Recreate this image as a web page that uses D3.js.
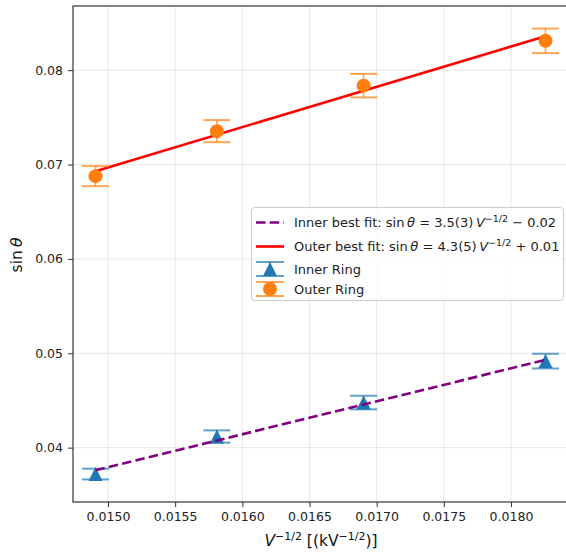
<!DOCTYPE html>
<html>
<head>
<meta charset="utf-8">
<script src="https://cdn.jsdelivr.net/npm/d3@7"></script>
<style>
  body { margin: 0; background: #fff; }
  svg { display: block; font-family: "DejaVu Sans", sans-serif; }
</style>
</head>
<body>
<svg id="chart" width="566" height="555"></svg>
<script>
// x = V^-1/2 for V = 4500, 4000, 3500, 3000
const xValues = [0.014907, 0.015811, 0.016903, 0.018257];
const innerRing = [0.03720, 0.04118, 0.04478, 0.04917];
const innerErr = [0.00057, 0.00065, 0.00072, 0.00078];
const outerRing = [0.06877, 0.07354, 0.07836, 0.08311];
const outerErr = [0.00106, 0.00117, 0.00125, 0.00130];
// fit line end values at first and last x
const innerFit = [0.0376, 0.0493];
const outerFit = [0.0693, 0.0836];
const xTicks = [0.0150, 0.0155, 0.0160, 0.0165, 0.0170, 0.0175, 0.0180];
const yTicks = [0.04, 0.05, 0.06, 0.07, 0.08];

const blue = '#1f77b4';
const orange = '#ff7f0e';

const svg = d3.select('#chart');
const margin = { left: 73, top: 6, right: 568, bottom: 502 };

const x = d3.scaleLinear().domain([0.0147395, 0.0184245]).range([margin.left, margin.right]);
const y = d3.scaleLinear().domain([0.03424, 0.0868]).range([margin.bottom, margin.top]);

// grid
const grid = svg.append('g').attr('stroke', '#b0b0b0').attr('stroke-opacity', 0.35).attr('stroke-width', 0.8);
xTicks.forEach(t => grid.append('line').attr('x1', x(t)).attr('x2', x(t)).attr('y1', margin.top).attr('y2', margin.bottom));
yTicks.forEach(t => grid.append('line').attr('y1', y(t)).attr('y2', y(t)).attr('x1', margin.left).attr('x2', margin.right));

// axes
const xAxis = d3.axisBottom(x).tickValues(xTicks).tickFormat(d3.format('.4f')).tickSizeOuter(0).tickSize(5).tickPadding(5);
const yAxis = d3.axisLeft(y).tickValues(yTicks).tickFormat(d3.format('.2f')).tickSizeOuter(0).tickSize(5).tickPadding(5);
svg.append('g').attr('transform', `translate(0,${margin.bottom})`).call(xAxis)
  .call(g => g.select('.domain').remove());
svg.append('g').attr('transform', `translate(${margin.left},0)`).call(yAxis)
  .call(g => g.select('.domain').remove());
svg.selectAll('.tick text').attr('font-size', 12.5).attr('font-family', '"DejaVu Sans", sans-serif').attr('fill', '#222');
svg.selectAll('.tick line').attr('stroke', '#333');

// spines
svg.append('rect')
  .attr('x', margin.left).attr('y', margin.top)
  .attr('width', margin.right - margin.left).attr('height', margin.bottom - margin.top)
  .attr('fill', 'none').attr('stroke', '#333').attr('stroke-width', 1.2);

const plot = svg.append('g');

function drawErrorbars(vals, errs, color, marker) {
  const g = plot.append('g');
  vals.forEach((v, i) => {
    const cx = x(xValues[i]);
    const e = g.append('g').attr('stroke', color).attr('stroke-opacity', 0.7).attr('stroke-width', 1.6);
    e.append('line').attr('x1', cx).attr('x2', cx).attr('y1', y(v - errs[i])).attr('y2', y(v + errs[i]));
    [v - errs[i], v + errs[i]].forEach(b =>
      e.append('line').attr('x1', cx - 13.5).attr('x2', cx + 13.5).attr('y1', y(b)).attr('y2', y(b)).attr('stroke-width', 2));
    marker(g, cx, y(v));
  });
}

function triangle(g, cx, cy, s = 7) {
  g.append('path').attr('d', `M${cx},${cy - s}L${cx + s},${cy + s}L${cx - s},${cy + s}Z`).attr('fill', blue);
}
function circle(g, cx, cy, r = 7) {
  g.append('circle').attr('cx', cx).attr('cy', cy).attr('r', r).attr('fill', orange);
}

const fitLine = d3.line().x(d => x(d[0])).y(d => y(d[1]));
const ends = [xValues[0], xValues[xValues.length - 1]];

drawErrorbars(innerRing, innerErr, blue, triangle);
plot.append('path').attr('d', fitLine(ends.map((v, i) => [v, innerFit[i]])))
  .attr('fill', 'none').attr('stroke', 'purple').attr('stroke-width', 2.6).attr('stroke-dasharray', '9.5,4.2');
plot.append('path').attr('d', fitLine(ends.map((v, i) => [v, outerFit[i]])))
  .attr('fill', 'none').attr('stroke', 'red').attr('stroke-width', 2.6);
drawErrorbars(outerRing, outerErr, orange, circle);

// axis labels
svg.append('text').attr('transform', 'translate(22,255) rotate(-90)').attr('text-anchor', 'middle')
  .attr('font-size', 15.5).attr('fill', '#111')
  .call(t => { t.append('tspan').text('sin\u2009'); t.append('tspan').attr('font-style', 'italic').text('θ'); });

const xl = svg.append('text').attr('x', 321).attr('y', 546).attr('text-anchor', 'middle').attr('font-size', 15.5).attr('fill', '#111');
xl.append('tspan').attr('font-style', 'italic').text('V');
xl.append('tspan').attr('font-size', 11).attr('dy', -6).text('−1/2');
xl.append('tspan').attr('dy', 6).text(' [(kV');
xl.append('tspan').attr('font-size', 11).attr('dy', -6).text('−1/2');
xl.append('tspan').attr('dy', 6).text(')]');

// legend
const lg = svg.append('g');
lg.append('rect').attr('x', 251.5).attr('y', 207.5).attr('width', 312).attr('height', 93).attr('rx', 3)
  .attr('fill', '#fff').attr('fill-opacity', 0.8).attr('stroke', '#cccccc');

function mathLabel(ty, label, coef, sign, c0) {
  const t = lg.append('text').attr('x', 294).attr('y', ty + 4.5).attr('font-size', 13).attr('fill', '#222');
  t.append('tspan').text(label + ' sin\u2009');
  t.append('tspan').attr('font-style', 'italic').text('θ');
  t.append('tspan').text(` = ${coef}\u2009`);
  t.append('tspan').attr('font-style', 'italic').text('V');
  t.append('tspan').attr('font-size', 9.5).attr('dy', -5).text('−1/2');
  t.append('tspan').attr('dy', 5).text(` ${sign} ${c0}`);
}

lg.append('line').attr('x1', 256).attr('x2', 284).attr('y1', 222.5).attr('y2', 222.5)
  .attr('stroke', 'purple').attr('stroke-width', 2.6).attr('stroke-dasharray', '9.5,4.2');
mathLabel(222.5, 'Inner best fit:', '3.5(3)', '−', '0.02');
lg.append('line').attr('x1', 256).attr('x2', 284).attr('y1', 246.5).attr('y2', 246.5)
  .attr('stroke', 'red').attr('stroke-width', 2.6);
mathLabel(246.5, 'Outer best fit:', '4.3(5)', '+', '0.01');

[[269, blue, triangle, 'Inner Ring'], [289, orange, circle, 'Outer Ring']].forEach(([ty, color, marker, label]) => {
  const e = lg.append('g').attr('stroke', color).attr('stroke-opacity', 0.7).attr('stroke-width', 2);
  e.append('line').attr('x1', 270).attr('x2', 270).attr('y1', ty - 7).attr('y2', ty + 7).attr('stroke-width', 1.6);
  e.append('line').attr('x1', 256).attr('x2', 284).attr('y1', ty - 7).attr('y2', ty - 7);
  e.append('line').attr('x1', 256).attr('x2', 284).attr('y1', ty + 7).attr('y2', ty + 7);
  marker(lg, 270, ty);
  lg.append('text').attr('x', 294).attr('y', ty + 4.5).attr('font-size', 13).attr('fill', '#222').text(label);
});
</script>
</body>
</html>
